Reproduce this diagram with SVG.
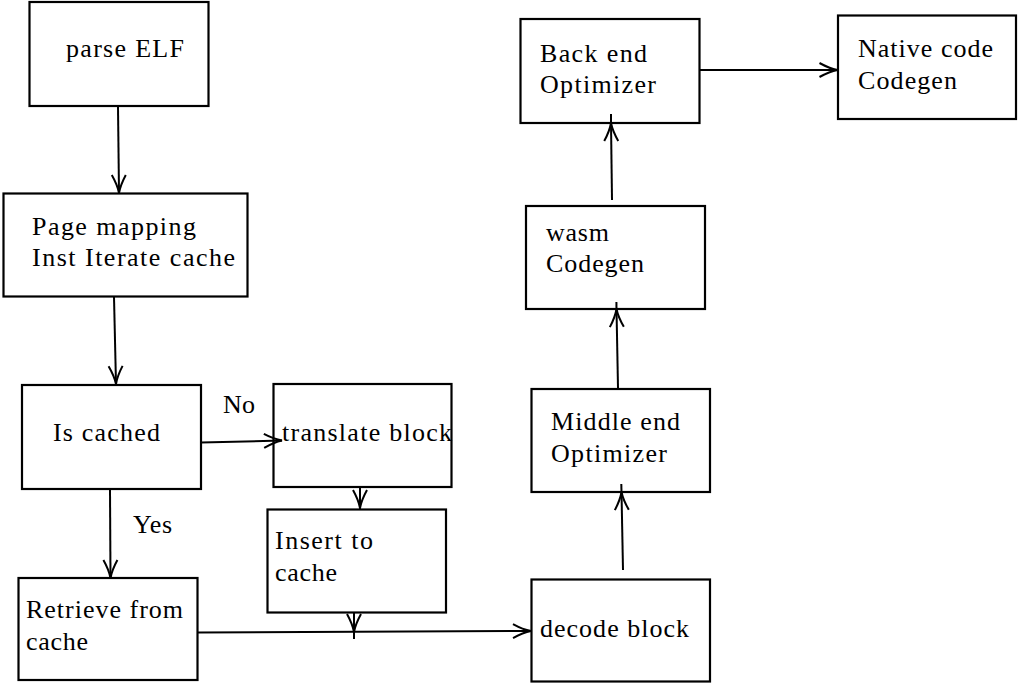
<svg xmlns="http://www.w3.org/2000/svg" width="1018" height="683" viewBox="0 0 1018 683">
<style>
.box{fill:#fff;stroke:#000;stroke-width:2.2}
.t{font-family:"Liberation Serif","Times New Roman",serif;font-size:26px;fill:#000}
.c{fill:none;stroke:#000;stroke-width:2}
.a{marker-end:url(#arr)}
</style>
<defs>
<marker id="arr" markerUnits="userSpaceOnUse" markerWidth="22" markerHeight="18" viewBox="-20 -9 22 18" refX="0" refY="0" orient="auto" overflow="visible">
<path d="M-18,-7 Q-8,-1.5 0,0 Q-8,1.5 -18,7" fill="none" stroke="#000" stroke-width="2"/>
</marker>
</defs>
<rect width="1018" height="683" fill="#fff"/>
<g id="parse">
<rect class="box" x="29.5" y="2" width="179" height="104"/>
<text class="t" x="66" y="57" textLength="118">parse ELF</text>
</g>
<g id="page">
<rect class="box" x="3.5" y="193.5" width="244" height="103"/>
<text class="t" x="32" y="235" textLength="164">Page mapping</text>
<text class="t" x="32" y="266" textLength="203">Inst Iterate cache</text>
</g>
<g id="iscached">
<rect class="box" x="22" y="385" width="179" height="104"/>
<text class="t" x="53" y="441" textLength="107">Is cached</text>
</g>
<g id="translate">
<rect class="box" x="273.5" y="384" width="178" height="103"/>
<text class="t" x="282" y="441" textLength="170">translate block</text>
</g>
<g id="insert">
<rect class="box" x="267.5" y="509.5" width="178.5" height="103"/>
<text class="t" x="275" y="549" textLength="98">Insert to</text>
<text class="t" x="275" y="581" textLength="62">cache</text>
</g>
<g id="retrieve">
<rect class="box" x="18.5" y="578" width="179" height="102"/>
<text class="t" x="26" y="618" textLength="157">Retrieve from</text>
<text class="t" x="26" y="650" textLength="62">cache</text>
</g>
<g id="decode">
<rect class="box" x="531.5" y="579.5" width="178.5" height="102"/>
<text class="t" x="540" y="637" textLength="149">decode block</text>
</g>
<g id="middle">
<rect class="box" x="531.5" y="389" width="178.5" height="103"/>
<text class="t" x="551" y="430" textLength="129">Middle end</text>
<text class="t" x="551" y="462" textLength="116">Optimizer</text>
</g>
<g id="wasm">
<rect class="box" x="526" y="206" width="179" height="103"/>
<text class="t" x="546" y="241" textLength="63">wasm</text>
<text class="t" x="546" y="272" textLength="98">Codegen</text>
</g>
<g id="backend">
<rect class="box" x="520.5" y="19" width="179" height="104"/>
<text class="t" x="540" y="62" textLength="107">Back end</text>
<text class="t" x="540" y="93" textLength="116">Optimizer</text>
</g>
<g id="native">
<rect class="box" x="838" y="15.5" width="178" height="103.5"/>
<text class="t" x="858" y="57" textLength="135">Native code</text>
<text class="t" x="858" y="89" textLength="99">Codegen</text>
</g>
<g id="connectors">
<line class="c a" x1="118" y1="107" x2="119" y2="193"/>
<line class="c a" x1="114" y1="297" x2="116" y2="384"/>
<line class="c a" x1="201" y1="442.5" x2="282" y2="440.5"/>
<line class="c a" x1="110" y1="490" x2="110.5" y2="578"/>
<line class="c a" x1="360" y1="487" x2="360" y2="508"/>
<line class="c" x1="360" y1="508" x2="360" y2="510"/>
<line class="c a" x1="354" y1="613" x2="354" y2="632"/>
<line class="c" x1="354" y1="632" x2="354" y2="639"/>
<line class="c a" x1="198" y1="632.5" x2="531" y2="631"/>
<line class="c a" x1="623" y1="570" x2="621.5" y2="492"/>
<line class="c" x1="621.5" y1="492" x2="621.3" y2="484"/>
<line class="c a" x1="618" y1="388" x2="616.5" y2="309"/>
<line class="c" x1="616.5" y1="309" x2="616.4" y2="302"/>
<line class="c a" x1="612" y1="200" x2="611" y2="123"/>
<line class="c" x1="611" y1="123" x2="611" y2="114"/>
<line class="c a" x1="699.5" y1="70" x2="837.5" y2="70"/>
<text class="t" x="223" y="413" textLength="32">No</text>
<text class="t" x="133" y="533" textLength="39">Yes</text>
</g>
</svg>
